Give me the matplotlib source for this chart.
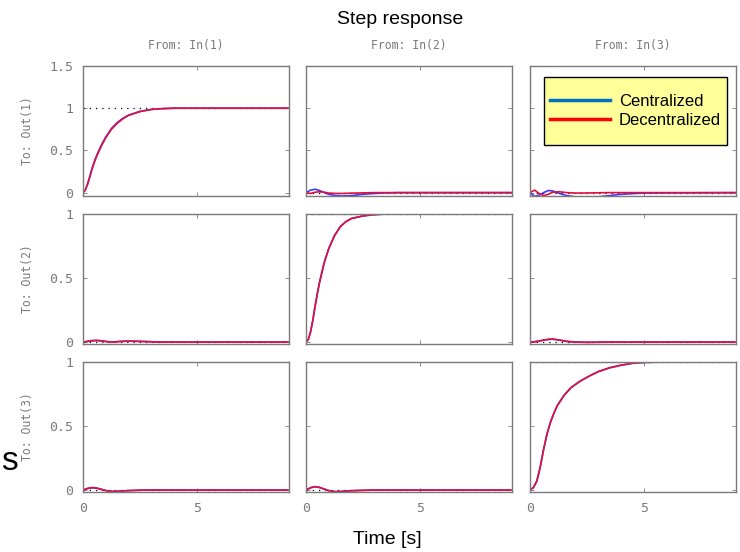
import matplotlib
matplotlib.use('Agg')
import matplotlib.pyplot as plt
from matplotlib.lines import Line2D
from matplotlib.patches import Rectangle

# ---- data ----
t_fast = [0, 0.1, 0.2, 0.3, 0.4, 0.5, 0.6, 0.8, 1.0, 1.25, 1.5, 1.75, 2.0, 2.5, 3.0, 3.5, 4.0, 5.0, 9.0]
y11_cen = [0, 0.03, 0.10, 0.19, 0.29, 0.37, 0.44, 0.56, 0.66, 0.76, 0.83, 0.88, 0.918, 0.962, 0.986, 0.995, 1.0, 1.0, 1.0]
y11_dec = [0, 0.03, 0.10, 0.19, 0.28, 0.36, 0.43, 0.55, 0.65, 0.75, 0.82, 0.875, 0.915, 0.96, 0.985, 0.995, 1.0, 1.0, 1.0]
y22_cen = [0, 0.02, 0.08, 0.17, 0.28, 0.38, 0.47, 0.62, 0.73, 0.83, 0.90, 0.94, 0.965, 0.985, 0.995, 1.0, 1.0, 1.0, 1.0]
y22_dec = [0, 0.02, 0.08, 0.17, 0.28, 0.38, 0.47, 0.62, 0.73, 0.83, 0.90, 0.94, 0.965, 0.985, 0.995, 1.0, 1.0, 1.0, 1.0]

t_slow = [0, 0.15, 0.3, 0.45, 0.6, 0.75, 0.9, 1.05, 1.2, 1.5, 1.8, 2.2, 2.6, 3.0, 3.5, 4.0, 4.5, 5.0, 6.0, 9.0]
y33_cen = [0, 0.02, 0.07, 0.18, 0.32, 0.44, 0.53, 0.60, 0.66, 0.74, 0.80, 0.85, 0.89, 0.925, 0.955, 0.975, 0.99, 0.997, 1.0, 1.0]
y33_dec = [0, 0.02, 0.07, 0.18, 0.32, 0.44, 0.53, 0.60, 0.66, 0.74, 0.80, 0.85, 0.89, 0.925, 0.955, 0.975, 0.99, 0.997, 1.0, 1.0]

t_off = [0, 0.2, 0.4, 0.6, 0.8, 1.0, 1.3, 1.6, 2.0, 2.5, 3.0, 3.5, 4.0, 5.0, 9.0]
y12_cen = [0, 0.03, 0.04, 0.025, 0.0, -0.02, -0.035, -0.04, -0.035, -0.02, -0.01, -0.004, 0, 0, 0]
y12_dec = [0, -0.01, 0.005, 0.01, 0.005, -0.005, -0.01, -0.01, -0.006, -0.003, 0, 0, 0, 0, 0]
y13_cen = [0, -0.045, -0.03, 0.0, 0.025, 0.02, -0.01, -0.035, -0.05, -0.055, -0.05, -0.035, -0.02, -0.005, 0]
y13_dec = [0, 0.03, -0.01, -0.035, -0.02, 0.005, 0.01, 0.0, -0.005, -0.004, -0.002, 0, 0, 0, 0]
y21_cen = [0, 0.005, 0.01, 0.012, 0.01, 0.005, 0.0, 0.005, 0.008, 0.006, 0.003, 0, 0, 0, 0]
y21_dec = [0, 0.006, 0.012, 0.013, 0.01, 0.004, 0.0, 0.004, 0.007, 0.005, 0.002, 0, 0, 0, 0]
y23_cen = [0, 0.003, 0.008, 0.015, 0.02, 0.022, 0.015, 0.005, 0.0, -0.002, -0.001, 0, 0, 0, 0]
y23_dec = [0, 0.002, 0.008, 0.016, 0.022, 0.024, 0.016, 0.006, 0.0, -0.002, -0.001, 0, 0, 0, 0]
y31_cen = [0, 0.012, 0.018, 0.015, 0.006, -0.004, -0.01, -0.008, -0.004, -0.001, 0, 0, 0, 0, 0]
y31_dec = [0, 0.013, 0.02, 0.016, 0.006, -0.004, -0.011, -0.009, -0.004, -0.001, 0, 0, 0, 0, 0]
y32_cen = [0, 0.018, 0.026, 0.02, 0.008, -0.004, -0.012, -0.01, -0.005, -0.002, 0, 0, 0, 0, 0]
y32_dec = [0, 0.019, 0.027, 0.021, 0.008, -0.005, -0.013, -0.01, -0.005, -0.002, 0, 0, 0, 0, 0]

curves = {
    (0, 0): (t_fast, y11_cen, y11_dec, 1),
    (0, 1): (t_off, y12_cen, y12_dec, 0),
    (0, 2): (t_off, y13_cen, y13_dec, 0),
    (1, 0): (t_off, y21_cen, y21_dec, 0),
    (1, 1): (t_fast, y22_cen, y22_dec, 1),
    (1, 2): (t_off, y23_cen, y23_dec, 0),
    (2, 0): (t_off, y31_cen, y31_dec, 0),
    (2, 1): (t_off, y32_cen, y32_dec, 0),
    (2, 2): (t_slow, y33_cen, y33_dec, 1),
}

col_labels = ['From: In(1)', 'From: In(2)', 'From: In(3)']
row_labels = ['To: Out(1)', 'To: Out(2)', 'To: Out(3)']
x_ticks = [0, 5]
x_tick_labels = ['0', '5']

mono = 'DejaVu Sans Mono'
grey = '#7a7a7a'

fig = plt.figure(figsize=(7.4, 5.52), dpi=100)
W, H = 740, 552
lefts = [83, 306, 530]
tops = [66, 214, 362]
aw, ah = 206, 130

for (r, c), (t, yc, yd, ss) in curves.items():
    ax = fig.add_axes([lefts[c] / W, 1 - (tops[r] + ah) / H, aw / W, ah / H])
    ax.plot([0, 9], [ss, ss], color='black', ls=(0, (1, 4)), lw=0.9)
    ax.plot(t, yc, color='#3b3bff', lw=1.2)
    ax.plot(t, yd, color='#e0103a', lw=1.2)
    ax.set_xlim(0, 9.05)
    if r == 0:
        ax.set_ylim(-0.04, 1.5)
        ax.set_yticks([0, 0.5, 1, 1.5])
        ax.set_yticklabels(['0', '0.5', '1', '1.5'])
    else:
        ax.set_ylim(-0.015, 1.0)
        ax.set_yticks([0, 0.5, 1])
        ax.set_yticklabels(['0', '0.5', '1'])
    ax.set_xticks(x_ticks)
    ax.set_xticklabels(x_tick_labels)
    ax.tick_params(direction='in', length=3, width=0.6, color=grey, top=True, right=True,
                   labelsize=9.5, labelcolor=grey, pad=7)
    for lab in ax.get_xticklabels() + ax.get_yticklabels():
        lab.set_family(mono)
    if c != 0:
        ax.tick_params(labelleft=False)
    if r != 2:
        ax.tick_params(labelbottom=False)
    for s in ax.spines.values():
        s.set_color('#7a7a7a')
        s.set_linewidth(1.0)
    if r == 0:
        ax.set_title(col_labels[c], fontsize=8.3, color=grey, family=mono, pad=12)
    if c == 0:
        ax.set_ylabel(row_labels[r], fontsize=8.3, color=grey, family=mono, labelpad=11)
    if (r, c) == (0, 2):
        # yellow legend box, drawn separately for its taller padding
        ax.add_patch(Rectangle((0.068, 0.392), 0.888, 0.523, transform=ax.transAxes,
                               facecolor='#ffff99', edgecolor='black', lw=1.0, zorder=4))
        handles = [Line2D([], [], color='#0070c0', lw=2.5), Line2D([], [], color='#ff0000', lw=2.5)]
        leg = ax.legend(handles, ['Centralized', 'Decentralized'], loc='center',
                        bbox_to_anchor=(0.512, 0.654), frameon=False,
                        handlelength=3.6, prop={'family': 'Liberation Sans', 'size': 12},
                        labelspacing=0.2, borderpad=0.2, handletextpad=0.55)
        leg.set_zorder(5)

fig.text(400 / W, 1 - 20 / H, 'Step response', ha='center', va='center', fontsize=14,
         family='Liberation Sans')
fig.text(387 / W, 1 - 540 / H, 'Time [s]', ha='center', va='center', fontsize=14,
         family='Liberation Sans')
fig.text(0.001, 1 - 462 / H, 's', ha='left', va='center', fontsize=24, family='Liberation Sans')

fig.savefig('out.png', dpi=100)
